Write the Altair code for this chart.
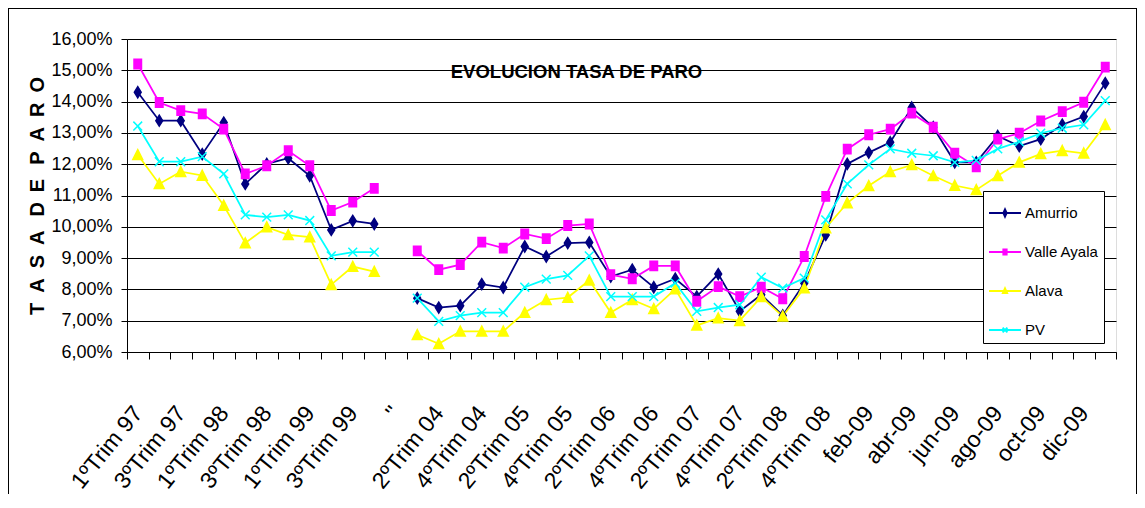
import json
import altair as alt
import pandas as pd

# ---------------- data ----------------
categories = [
    "1ºTrim 97", "2ºTrim 97", "3ºTrim 97", "4ºTrim 97",
    "1ºTrim 98", "2ºTrim 98", "3ºTrim 98", "4ºTrim 98",
    "1ºTrim 99", "2ºTrim 99", "3ºTrim 99", "4ºTrim 99",
    "''",
    "1ºTrim 04", "2ºTrim 04", "3ºTrim 04", "4ºTrim 04",
    "1ºTrim 05", "2ºTrim 05", "3ºTrim 05", "4ºTrim 05",
    "1ºTrim 06", "2ºTrim 06", "3ºTrim 06", "4ºTrim 06",
    "1ºTrim 07", "2ºTrim 07", "3ºTrim 07", "4ºTrim 07",
    "1ºTrim 08", "2ºTrim 08", "3ºTrim 08", "4ºTrim 08",
    "ene-09", "feb-09", "mar-09", "abr-09", "may-09", "jun-09",
    "jul-09", "ago-09", "sep-09", "oct-09", "nov-09", "dic-09", "ene-10",
]

series_names = ["Amurrio", "Valle Ayala", "Alava", "PV"]
series_colors = ["#000080", "#FF00FF", "#FFFF00", "#00FFFF"]

amurrio = [14.30, 13.39, 13.39, 12.32, 13.33, 11.37, 12.01, 12.19, 11.63, 9.90, 10.19, 10.09,
           None,
           7.72, 7.42, 7.48, 8.17, 8.06, 9.37, 9.05, 9.48, 9.50, 8.41, 8.63, 8.07, 8.34, 7.77,
           8.49, 7.30, 7.83, 7.17, 8.20, 9.74,
           12.01, 12.37, 12.70, 13.81, 13.18, 12.06, 12.06, 12.90, 12.58, 12.80, 13.26, 13.52, 14.59]
valle_ayala = [15.20, 13.97, 13.71, 13.61, 13.12, 11.69, 11.95, 12.43, 11.95, 10.52, 10.79, 11.23,
               None,
               9.23, 8.63, 8.79, 9.51, 9.32, 9.77, 9.62, 10.04, 10.09, 8.47, 8.34, 8.75, 8.75, 7.62,
               8.09, 7.77, 8.07, 7.70, 9.05, 10.97,
               12.48, 12.94, 13.12, 13.63, 13.18, 12.35, 11.92, 12.80, 12.99, 13.38, 13.68, 13.98, 15.10]
alava = [12.30, 11.37, 11.76, 11.64, 10.68, 9.48, 9.99, 9.74, 9.67, 8.15, 8.73, 8.57,
         None,
         6.55, 6.26, 6.66, 6.66, 6.66, 7.26, 7.67, 7.74, 8.29, 7.26, 7.67, 7.38, 8.01, 6.85,
         7.08, 7.00, 7.76, 7.14, 8.04, 9.96,
         10.76, 11.31, 11.76, 11.98, 11.63, 11.32, 11.18, 11.63, 12.06, 12.33, 12.43, 12.35, 13.26]
pv = [13.22, 12.08, 12.08, 12.24, 11.69, 10.38, 10.31, 10.38, 10.20, 9.07, 9.19, 9.19,
      None,
      7.72, 6.98, 7.16, 7.26, 7.26, 8.07, 8.33, 8.45, 9.07, 7.77, 7.77, 7.77, 8.20, 7.30,
      7.42, 7.51, 8.39, 8.04, 8.36, 10.22,
      11.37, 11.98, 12.49, 12.35, 12.27, 12.06, 12.12, 12.49, 12.72, 12.99, 13.15, 13.26, 14.03]

y_ticks = [6, 7, 8, 9, 10, 11, 12, 13, 14, 15, 16]

# ---------------- table ----------------
rows = []
for name, vals in zip(series_names, [amurrio, valle_ayala, alava, pv]):
    seg = 0
    for i, v in enumerate(vals):
        if v is None:
            seg += 1
            continue
        rows.append({"idx": i, "serie": name, "valor": v, "tramo": seg})
df = pd.DataFrame(rows)

shown = [c if i % 2 == 0 else "" for i, c in enumerate(categories)]
label_expr = json.dumps(shown, ensure_ascii=False) + "[datum.value]"

# marker shapes (custom paths)
chart_shapes = [
    "M0,-1L0.62,0L0,1L-0.62,0Z",          # diamond
    "M-0.68,-0.85H0.68V0.85H-0.68Z",      # square
    "M0,-0.95L0.9,0.85H-0.9Z",            # triangle
    "M-0.8,-0.8L0.8,0.8M-0.8,0.8L0.8,-0.8",  # x
]
legend_shapes = [
    "M-1,0H1M0,-0.22L0.1,0L0,0.22L-0.1,0Z",
    "M-1,0H1M-0.1,-0.16H0.1V0.16H-0.1Z",
    "M-1,0H1M0,-0.16L0.13,0.13H-0.13Z",
    "M-1,0H1M-0.15,-0.15L0.15,0.15M-0.15,0.15L0.15,-0.15",
]

FONT = "Liberation Sans, Arial, sans-serif"
SP = "\u2002"
WSP = "\u2002\u2009"
y_title = SP.join("TASA") + WSP + SP.join("DE") + WSP + SP.join("PARO")

x_enc = alt.X(
    "idx:O",
    scale=alt.Scale(type="band", domain=list(range(len(categories))), paddingInner=0, paddingOuter=0),
    axis=alt.Axis(
        title=None, labelExpr=label_expr, labelAngle=-51, labelAlign="right",
        labelBaseline="middle", labelFont=FONT, labelFontSize=23, labelColor="black",
        labelPadding=50, tickBand="extent", tickSize=7, tickColor="black",
        domainColor="black", grid=False, labelOverlap=False,
    ),
)
y_enc = alt.Y(
    "valor:Q",
    scale=alt.Scale(domain=[6, 16], nice=False, zero=False),
    axis=alt.Axis(
        values=y_ticks,
        labelExpr="replace(format(datum.value, '.2f'), '.', ',') + '%'",
        title=y_title, titleFont=FONT, titleFontSize=20,
        titleFontWeight="bold", titleColor="black", titleAngle=270,
        titleX=-84, titleY=156.5, titleAlign="center", titleBaseline="alphabetic",
        labelFont=FONT, labelFontSize=18, labelColor="black", labelPadding=9,
        tickSize=6, tickColor="black", domainColor="black",
        grid=True, gridColor="black", gridWidth=1, gridOpacity=1,
    ),
)

col_scale = alt.Scale(domain=series_names, range=series_colors)

legend_def = alt.Legend(
    orient="none", legendX=856, legendY=152, title=None,
    strokeColor="black", fillColor="white", padding=5,
    symbolSize=1024, symbolStrokeWidth=2, labelFont=FONT, labelFontSize=15,
    labelColor="black", rowPadding=14, labelOffset=3, cornerRadius=0,
)

lines = alt.Chart(df).mark_line(strokeWidth=1.75).encode(
    x=x_enc, y=y_enc,
    stroke=alt.Stroke("serie:N", scale=col_scale, legend=None),
    detail="tramo:N",
)

points = alt.Chart(df).mark_point(filled=True, size=121, strokeWidth=1.5, opacity=1).encode(
    x=x_enc, y=y_enc,
    fill=alt.Fill("serie:N", scale=col_scale, legend=None),
    stroke=alt.Stroke("serie:N", scale=col_scale, legend=None),
    shape=alt.Shape("serie:N", scale=alt.Scale(domain=series_names, range=chart_shapes), legend=None),
)

legend_layer = alt.Chart(df).transform_filter("datum.valor > 1000").mark_point(
    filled=True, opacity=1, strokeWidth=2
).encode(
    fill=alt.Fill("serie:N", scale=col_scale, legend=legend_def),
    stroke=alt.Stroke("serie:N", scale=col_scale, legend=legend_def),
    shape=alt.Shape("serie:N", scale=alt.Scale(domain=series_names, range=legend_shapes), legend=legend_def),
)

# outer border of the chart area (decoration): top, left, right edges, kept inside the page
one = pd.DataFrame({"k": [0]})
frame_top = alt.Chart(one).mark_rect(fill="black").encode(
    x=alt.value(-119), x2=alt.value(1010), y=alt.value(-31), y2=alt.value(-30),
)
frame_left = alt.Chart(one).mark_rule(stroke="black", strokeWidth=1).encode(
    x=alt.value(-118.5), y=alt.value(-30.5), y2=alt.value(455),
)
frame_right = alt.Chart(one).mark_rule(stroke="black", strokeWidth=1).encode(
    x=alt.value(1009.5), y=alt.value(-30.5), y2=alt.value(455),
)

chart = alt.layer(frame_top, frame_left, frame_right, lines, points, legend_layer).resolve_scale(
    stroke="independent", fill="independent", shape="independent"
).properties(
    width=989, height=313,
    autosize=alt.AutoSizeParams(type="none"),
    padding={"left": 119, "top": 31, "right": 21, "bottom": 143},
    title=alt.TitleParams(
        "EVOLUCION TASA DE PARO", font=FONT, fontSize=18.5, fontWeight="bold",
        color="black", anchor="middle", dx=-45, dy=77,
    ),
).configure_view(
    fill="#C0C0C0", stroke="#808080", strokeWidth=1,
).configure(background="white")

chart.save("out.html", embed_options={"renderer": "svg", "actions": False})
